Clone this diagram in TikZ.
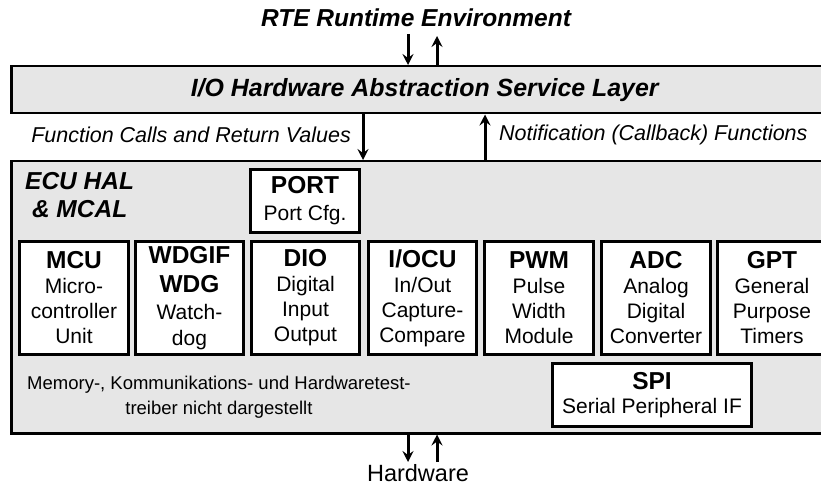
\documentclass[tikz,border=0pt]{standalone}
\usepackage{fontspec}
\setmainfont{Liberation Sans}
\usetikzlibrary{arrows.meta}
\definecolor{panel}{HTML}{E6E6E6}
% title line of a module box
\newcommand\modtitle[1]{{\fontsize{24.5}{25}\selectfont\bfseries #1}}
\tikzset{
  layer/.style={draw, line width=2.5pt, fill=panel, anchor=north west, inner sep=0pt},
  modbox/.style={draw, line width=3pt, fill=white, anchor=north west, inner sep=0pt,
    align=center, font=\fontsize{21}{25}\selectfont},
  heading/.style={font=\fontsize{24.5}{28}\selectfont\bfseries\itshape, inner sep=0pt},
  note/.style={font=\fontsize{21.5}{25}\selectfont\itshape, inner sep=0pt},
}
\begin{document}
\begin{tikzpicture}[x=1pt, y=-1pt, >={Stealth[length=11pt, width=11pt, inset=4pt]}]
\useasboundingbox (0,0) rectangle (821,486);

% layers
\node[layer, minimum width=830pt, minimum height=47pt,
  font=\fontsize{24.9}{28}\selectfont\bfseries\itshape] (svc) at (10,65)
  {\hspace*{-3pt}I/O Hardware Abstraction Service Layer};
\node[layer, minimum width=830pt, minimum height=272pt] (ecu) at (10,160) {};

% labels outside the panels
\node[heading] (rte) at (416,18) {RTE Runtime Environment};
\node[note, anchor=east] (calls) at (351,135) {Function Calls and Return Values};
\node[note, anchor=west] (notif) at (499,135) {Notification (Callback) Functions};
\node[font=\fontsize{23.5}{25}\selectfont, inner sep=0pt] (hw) at (418,473) {Hardware};

% labels inside the ECU panel
\node[heading, align=center, anchor=north west] (ecut) at (25,172)
  {ECU HAL\\\& MCAL};
\node[font=\fontsize{18.5}{25}\selectfont, align=center, inner sep=0pt, anchor=west] (memo) at (27,397)
  {Memory-, Kommunikations- und Hardwaretest-\\treiber nicht dargestellt};

% driver modules
\node[modbox, minimum width=109pt, minimum height=63pt, font=\fontsize{21}{27}\selectfont] (port) at (249,168)
  {\modtitle{PORT}\\Port Cfg.};
\node[modbox, minimum width=109pt, minimum height=113pt] (mcu) at (18,240)
  {\modtitle{MCU}\\Micro-\\controller\\Unit};
\node[modbox, minimum width=108pt, minimum height=113pt, font=\fontsize{21}{26.5}\selectfont] (wdg) at (134,240)
  {\modtitle{WDGIF}\\[3pt]\modtitle{WDG}\\Watch-\\dog};
\node[modbox, minimum width=108pt, minimum height=113pt] (dio) at (250,240)
  {\modtitle{DIO}\\Digital\\Input\\Output};
\node[modbox, minimum width=108pt, minimum height=113pt] (iocu) at (367,240)
  {\modtitle{I/OCU}\\In/Out\\Capture-\\Compare};
\node[modbox, minimum width=109pt, minimum height=113pt] (pwm) at (483,240)
  {\modtitle{PWM}\\Pulse\\Width\\Module};
\node[modbox, minimum width=109pt, minimum height=113pt] (adc) at (600,240)
  {\modtitle{ADC}\\Analog\\Digital\\Converter};
\node[modbox, minimum width=109pt, minimum height=113pt] (gpt) at (716,240)
  {\modtitle{GPT}\\General\\Purpose\\Timers};
\node[modbox, minimum width=199pt, minimum height=63pt, font=\fontsize{21}{24}\selectfont] (spi) at (551,362)
  {\modtitle{SPI}\\Serial Peripheral IF};

% interface arrows
\coordinate (rteDn) at (408,34);
\coordinate (rteUp) at (437,36);
\coordinate (callX) at (363,0);
\coordinate (notifX) at (485,0);
\coordinate (hwDn) at (408,462);
\coordinate (hwUp) at (437,462);

\begin{scope}[line width=3pt]
\draw[->] (rteDn) -- (rteDn |- svc.north);
\draw[->] (rteUp |- svc.north) -- (rteUp);
\draw[->] (svc.south -| callX) -- (ecu.north -| callX);
\draw[->] (ecu.north -| notifX) -- (svc.south -| notifX);
\draw[->] (ecu.south -| hwDn) -- (hwDn);
\draw[->] (hwUp) -- (ecu.south -| hwUp);
\end{scope}
\end{tikzpicture}
\end{document}
